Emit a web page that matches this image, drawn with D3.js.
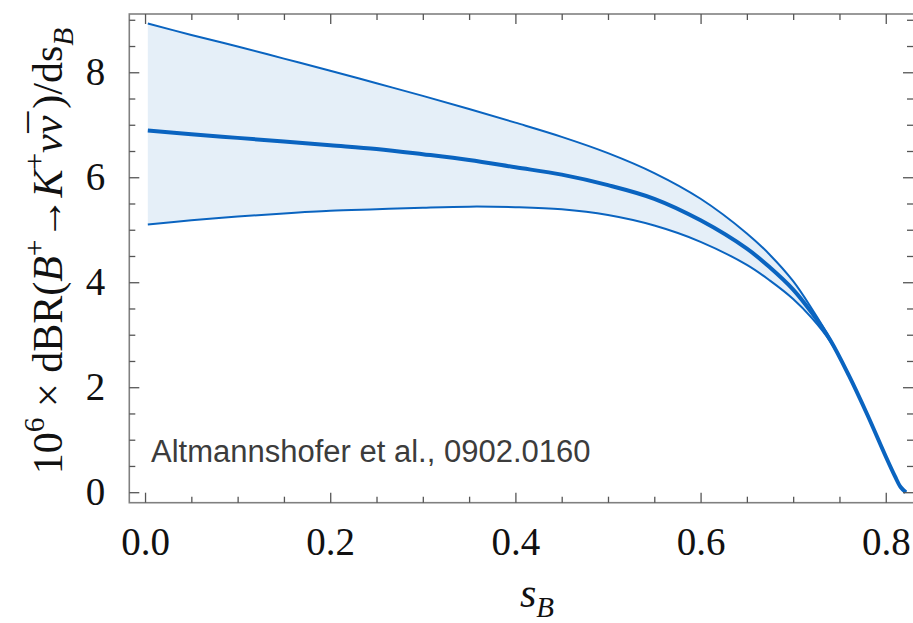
<!DOCTYPE html>
<html><head><meta charset="utf-8">
<script src="https://cdn.jsdelivr.net/npm/d3@7"></script>
<style>body{margin:0;background:#fff}</style>
</head><body>
<svg id="c" width="913" height="623"></svg>
<script>
// ---- data ----
const sB      = [0.003, 0.05, 0.10, 0.15, 0.20, 0.25, 0.30, 0.35, 0.40, 0.45, 0.50, 0.55, 0.60, 0.65, 0.675, 0.70, 0.72, 0.74, 0.76, 0.78, 0.80, 0.81, 0.816, 0.8217];
const upper   = [8.93, 8.71, 8.49, 8.26, 8.03, 7.79, 7.55, 7.30, 7.04, 6.77, 6.46, 6.08, 5.59, 4.93, 4.52, 4.02, 3.50, 2.92, 2.23, 1.48, 0.68, 0.30, 0.10, 0.0];
const central = [6.89, 6.82, 6.75, 6.68, 6.61, 6.54, 6.44, 6.33, 6.19, 6.05, 5.85, 5.59, 5.18, 4.64, 4.28, 3.86, 3.42, 2.90, 2.23, 1.48, 0.68, 0.30, 0.10, 0.0];
const lower   = [5.10, 5.18, 5.25, 5.31, 5.36, 5.39, 5.42, 5.44, 5.43, 5.39, 5.28, 5.08, 4.77, 4.33, 4.03, 3.68, 3.32, 2.87, 2.23, 1.48, 0.68, 0.30, 0.10, 0.0];

const xTicks = [0, 0.2, 0.4, 0.6, 0.8];
const xTickLabels = ["0.0", "0.2", "0.4", "0.6", "0.8"];
const xMinor = [0.05, 0.1, 0.15, 0.25, 0.3, 0.35, 0.45, 0.5, 0.55, 0.65, 0.7, 0.75];
const yTicks = [0, 2, 4, 6, 8];
const yTickLabels = ["0", "2", "4", "6", "8"];
const yMinor = [0.5, 1, 1.5, 2.5, 3, 3.5, 4.5, 5, 5.5, 6.5, 7, 7.5, 8.5, 9];
const annotation = "Altmannshofer et al., 0902.0160";

// ---- layout ----
const svg = d3.select("#c");
const L = 129.3, R = 914, T = 14, B = 502.7;
const x = d3.scaleLinear().domain([-0.017, 0.8305]).range([L, R]);
const y = d3.scaleLinear().domain([-0.2, 9.11]).range([B, T]);

const blue = "#0a64c0";
const pts = sB.map((s, i) => ({s, u: upper[i], c: central[i], l: lower[i]}));
const curve = d3.curveCatmullRom.alpha(0.5);

// band
svg.append("path").datum(pts)
  .attr("fill", "#e5eff8")
  .attr("d", d3.area().curve(curve).x(d => x(d.s)).y0(d => y(d.l)).y1(d => y(d.u)));

const lineOf = k => d3.line().curve(curve).x(d => x(d.s)).y(d => y(d[k]));
svg.append("path").datum(pts).attr("fill", "none").attr("stroke", blue).attr("stroke-width", 2).attr("d", lineOf("u"));
svg.append("path").datum(pts).attr("fill", "none").attr("stroke", blue).attr("stroke-width", 2).attr("d", lineOf("l"));
svg.append("path").datum(pts).attr("fill", "none").attr("stroke", blue).attr("stroke-width", 4)
  .attr("stroke-linecap", "butt").attr("d", lineOf("c"));

// frame
svg.append("rect").attr("x", L).attr("y", T).attr("width", R - L).attr("height", B - T)
  .attr("fill", "none").attr("stroke", "#808080").attr("stroke-width", 1.6);

const tickCol = "#555";
function ticks(g) { g.select(".domain").remove(); g.selectAll(".tick line").attr("stroke", tickCol).attr("stroke-width", 1.3); }

// bottom
svg.append("g").attr("transform", `translate(0,${B})`)
  .call(d3.axisBottom(x).tickValues(xTicks).tickSize(-10).tickPadding(25).tickFormat((d, i) => xTickLabels[i]))
  .call(ticks)
  .call(g => g.selectAll("text").attr("font-family", "Liberation Serif").attr("font-size", 39).attr("fill", "#111"));
svg.append("g").attr("transform", `translate(0,${B})`)
  .call(d3.axisBottom(x).tickValues(xMinor).tickSize(-6).tickFormat("")).call(ticks);
// top
svg.append("g").attr("transform", `translate(0,${T})`)
  .call(d3.axisTop(x).tickValues(xTicks).tickSize(-10).tickFormat("")).call(ticks);
svg.append("g").attr("transform", `translate(0,${T})`)
  .call(d3.axisTop(x).tickValues(xMinor).tickSize(-6).tickFormat("")).call(ticks);
// left
svg.append("g").attr("transform", `translate(${L},0)`)
  .call(d3.axisLeft(y).tickValues(yTicks).tickSize(-10).tickPadding(24).tickFormat((d, i) => yTickLabels[i]))
  .call(ticks)
  .call(g => g.selectAll("text").attr("font-family", "Liberation Serif").attr("font-size", 39).attr("fill", "#111"));
svg.append("g").attr("transform", `translate(${L},0)`)
  .call(d3.axisLeft(y).tickValues(yMinor).tickSize(-6).tickFormat("")).call(ticks);
// right
svg.append("g").attr("transform", `translate(${R - 1},0)`)
  .call(d3.axisRight(y).tickValues(yTicks).tickSize(-10).tickFormat("")).call(ticks);
svg.append("g").attr("transform", `translate(${R - 1},0)`)
  .call(d3.axisRight(y).tickValues(yMinor).tickSize(-6).tickFormat("")).call(ticks);

// annotation
svg.append("text").attr("x", 151).attr("y", 461.5)
  .attr("font-family", "Liberation Sans").attr("font-size", 31).attr("fill", "#3c3c3c")
  .text(annotation);

// x title
const xt = svg.append("text").attr("x", 537).attr("y", 607).attr("text-anchor", "middle")
  .attr("font-family", "Liberation Serif").attr("font-size", 42).attr("fill", "#111");
xt.append("tspan").attr("font-style", "italic").text("s");
xt.append("tspan").attr("font-style", "italic").attr("font-size", 29).attr("dy", 10).text("B");

// y title
const F = 42;
const yt = svg.append("text").attr("transform", `translate(62,251) rotate(-90)`).attr("text-anchor", "middle")
  .attr("font-family", "Liberation Serif").attr("font-size", F).attr("fill", "#111");
const sup = 0.42 * F, sub = 0.25 * F, small = 0.7 * F;
yt.append("tspan").text("10");
yt.append("tspan").attr("font-size", small).attr("dy", -sup).text("6");
yt.append("tspan").attr("dy", sup).text(" \u00d7 dBR(");
yt.append("tspan").attr("font-style", "italic").text("B");
yt.append("tspan").attr("font-size", small).attr("dy", -sup).text("+");
yt.append("tspan").attr("dy", sup).text("\u2192");
yt.append("tspan").attr("font-style", "italic").text("K");
yt.append("tspan").attr("font-size", small).attr("dy", -sup).text("+");
yt.append("tspan").attr("font-style", "italic").attr("dy", sup).text("\u03bd\u03bd");
yt.append("tspan").attr("dx", -17).attr("dy", -3).text("\u00af");
yt.append("tspan").attr("dx", 3).attr("dy", 3).text(")/ds");
yt.append("tspan").attr("font-style", "italic").attr("font-size", small).attr("dy", sub).text("B");
</script>
</body></html>
